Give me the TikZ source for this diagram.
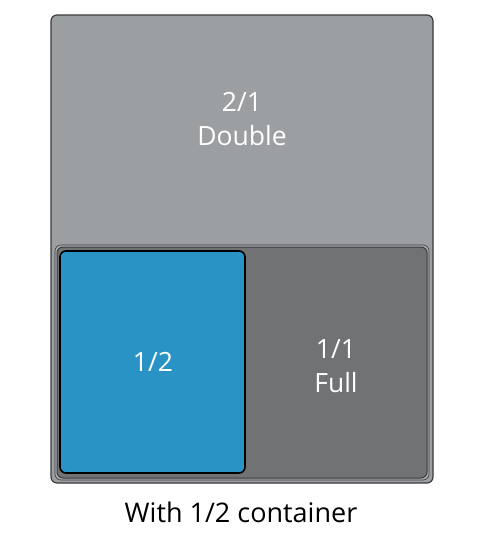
\documentclass[tikz,border=0pt]{standalone}
\usepackage{fontspec}
\setmainfont{Open Sans}
\definecolor{outergray}{HTML}{9C9FA2}
\definecolor{innergray}{HTML}{707274}
\definecolor{panblue}{HTML}{2A93C6}
\definecolor{edgegray}{HTML}{3A3B3D}
\begin{document}
\begin{tikzpicture}[x=1pt,y=-1pt,
  pan/.style={draw=edgegray, line width=1.2pt, rounded corners=6pt},
  lbl/.style={text=white, font=\fontsize{26.5}{34}\selectfont, align=center, inner sep=0pt},
  captext/.style={text=black, font=\fontsize{27}{32}\selectfont, inner sep=0pt}]
\useasboundingbox (0,0) rectangle (490,541);
\fill[white] (0,0) rectangle (490,541);
% outer 2/1 pan
\draw[pan, fill=outergray] (51,15) rectangle (433,483);
% 1/1 full pan with light rim
\draw[rounded corners=6pt, fill=outergray!85!white, draw=edgegray, line width=0.6pt] (55,245) rectangle (429,480);
\draw[pan, fill=innergray, line width=1pt] (57,247) rectangle (427,478);
% 1/2 pan
\draw[pan, fill=panblue, draw=black, line width=1.6pt] (60,251) rectangle (245,473);
\node[lbl] (double) at (242,119) {2/1\\Double};
\node[lbl] (half) at (153,362) {1/2};
\node[lbl] (full) at (336,366) {1/1\\Full};
\node[captext] (caption) at (241,512) {With 1/2 container};
\end{tikzpicture}
\end{document}
